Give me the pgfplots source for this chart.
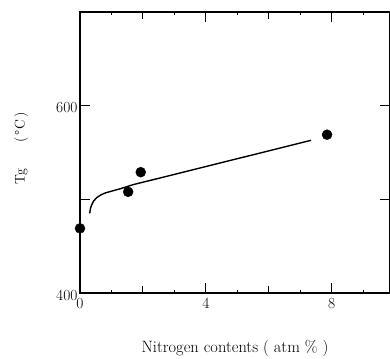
\documentclass[border=0pt]{standalone}
\usepackage{fontspec}
\usepackage{pgfplots}
\pgfplotsset{compat=1.18}
\begin{document}
\begin{tikzpicture}
\begin{axis}[
  scale only axis, width=310bp, height=281bp,
  xmin=0, xmax=9.85, ymin=400, ymax=700,
  axis line style={line width=1.2bp},
  xtick={0,4,8},
  extra x ticks={2,6}, extra x tick labels={},
  extra x tick style={major tick length=7bp},
  minor xtick={1,3,5,7,9},
  ytick={400,500,600,700}, yticklabels={400,,600,},
  tick align=inside, major tick length=10bp, minor tick length=3bp,
  tick style={black, line width=1bp},
  /pgf/number format/assume math mode=true,
  tick label style={font=\fontsize{15.5}{17}\selectfont},
  xticklabel style={yshift=-2bp},
  yticklabel style={xshift=1bp, yshift=-2bp},
  xlabel={Nitrogen contents ( atm \% )},
  xlabel style={font=\fontsize{16.5}{18}\selectfont, at={(axis description cs:0.5,-0.196)}, anchor=center},
  ylabel={Tg\hspace{26bp}(\,°C\,)},
  ylabel style={font=\fontsize{14}{16}\selectfont, at={(axis description cs:-0.19,0.515)}, anchor=center, rotate=0},
  clip=false,
]
\addplot[only marks, mark=*, mark size=5bp, black] coordinates {
  (0,469) (1.53,508) (1.93,529) (7.85,569)
};
\addplot[black, line width=1.4bp] coordinates {
  (0.31,485) (0.33,490) (0.37,494) (0.43,498) (0.52,501.5) (0.65,504.5)
  (0.8,506.8) (1.0,508.7) (1.3,511.5) (1.67,515.5) (7.34,563)
};
\coordinate (O) at (rel axis cs:0,0);
\end{axis}
\pgfresetboundingbox
\path (O) ++(-80bp,-66bp) rectangle ++(390bp,359bp);
\end{tikzpicture}
\end{document}
